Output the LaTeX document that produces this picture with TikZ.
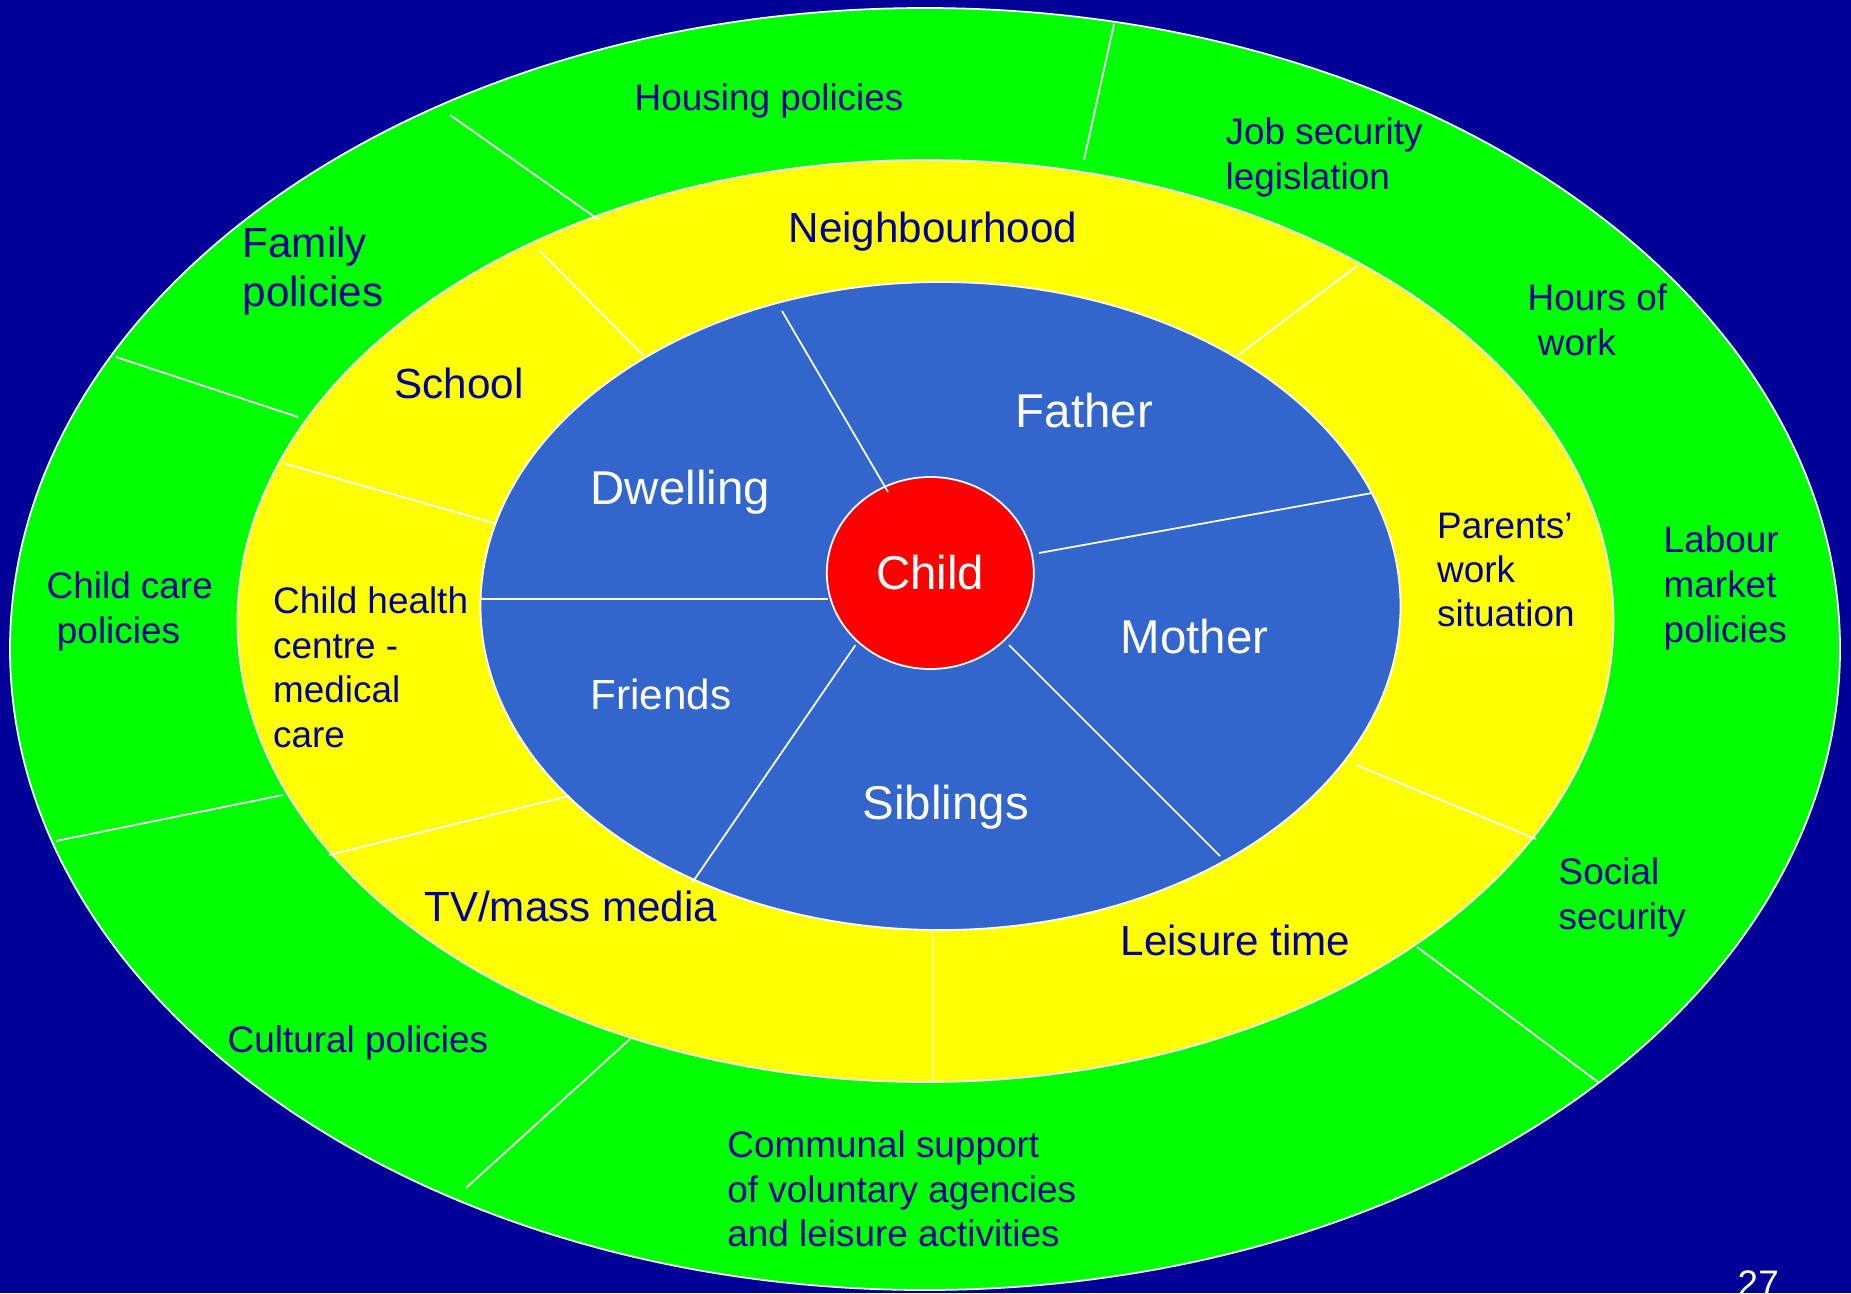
\documentclass[tikz,border=0pt]{standalone}
\usepackage{fontspec}
\setmainfont{Liberation Sans}
\usepackage{tikz}
\usetikzlibrary{shapes.geometric}
\definecolor{navy}{RGB}{0,0,153}
\definecolor{ringgreen}{RGB}{0,255,0}
\definecolor{ringyellow}{RGB}{255,255,0}
\definecolor{ringblue}{RGB}{51,102,204}
\definecolor{childred}{RGB}{255,0,0}
\newcommand{\smallsz}{\fontsize{10.5pt}{12.7pt}\selectfont}
\newcommand{\midsz}{\fontsize{12pt}{13.9pt}\selectfont}
\newcommand{\bigsz}{\fontsize{13.5pt}{16pt}\selectfont}
\tikzset{
  ring/.style={draw=white, line width=0.5pt},
  divider/.style={draw=white, line width=0.5pt},
  lbl/.style={anchor=base west, inner sep=0pt, align=left, text=navy},
  famlbl/.style={anchor=base west, inner sep=0pt, text=white, font=\bigsz},
}

\begin{document}
\begin{tikzpicture}
    \fill[navy] (0,0) rectangle (18.51,-12.93);
    \useasboundingbox (0,0) rectangle (18.51,-12.93);

    \filldraw[ring, fill=ringgreen] (9.25,-6.49) ellipse [x radius=9.15, y radius=6.41];
    \filldraw[ring, fill=ringyellow] (9.255,-6.21) ellipse [x radius=6.88, y radius=4.61];
    \filldraw[ring, fill=ringblue] (9.405,-6.06) ellipse [x radius=4.60, y radius=3.24];
    \node[ellipse, ring, fill=childred, minimum width=2.07cm, minimum height=1.92cm,
          inner sep=0pt, text=white, font=\bigsz] (child) at (9.303,-5.73) {Child};

    \foreach \xa/\ya/\xb/\yb in {4.50/-1.15/5.99/-2.20, 1.16/-3.57/2.98/-4.17,
        0.56/-8.41/2.83/-7.95, 4.66/-11.88/6.30/-10.39, 15.98/-10.82/14.17/-9.47,
        11.14/-0.24/10.84/-1.60}
        \draw[divider] (\xa,\ya) -- (\xb,\yb);
    \foreach \xa/\ya/\xb/\yb in {5.40/-2.51/6.44/-3.56, 2.83/-4.63/4.94/-5.23,
        3.29/-8.55/5.69/-7.96, 9.326/-9.32/9.326/-10.81, 13.56/-7.65/15.36/-8.39,
        12.37/-3.56/13.57/-2.66}
        \draw[divider] (\xa,\ya) -- (\xb,\yb);
    \foreach \xa/\ya/\xb/\yb in {7.82/-3.11/8.88/-4.92, 10.39/-5.53/13.72/-4.93,
        10.09/-6.45/12.20/-8.56, 8.555/-6.45/6.92/-8.83, 4.81/-5.99/8.28/-5.99}
        \draw[divider] (\xa,\ya) -- (\xb,\yb);

    \node[lbl, font=\smallsz] (housing) at (6.34,-1.10) {Housing policies};
    \node[lbl, font=\smallsz] (jobsec) at (12.25,-1.89) {Job security\\legislation};
    \node[lbl, font=\smallsz] (hours) at (15.27,-3.55) {Hours of\\\hspace*{0.278em}work};
    \node[lbl, font=\smallsz] (labour) at (16.63,-6.42) {Labour\\market\\policies};
    \node[lbl, font=\smallsz] (social) at (15.58,-9.29) {Social\\security};
    \node[lbl, font=\smallsz] (communal) at (7.267,-12.467) {Communal support\\of voluntary agencies\\and leisure activities};
    \node[lbl, font=\smallsz] (cultural) at (2.27,-10.52) {Cultural policies};
    \node[lbl, font=\smallsz] (childcare) at (0.46,-6.43) {Child care\\\hspace*{0.278em}policies};
    \node[lbl, font=\midsz] (family) at (2.42,-3.06) {Family\\policies};

    \node[lbl, font=\midsz] (neighbour) at (7.88,-2.42) {Neighbourhood};
    \node[lbl, font=\midsz] (school) at (3.94,-3.98) {School};
    \node[lbl, font=\smallsz] (health) at (2.725,-7.475) {Child health\\centre -\\medical\\care};
    \node[lbl, font=\midsz] (tvmedia) at (4.236,-9.21) {TV/mass media};
    \node[lbl, font=\midsz] (leisure) at (11.20,-9.55) {Leisure time};
    \node[lbl, font=\fontsize{10.5pt}{12.4pt}\selectfont] (parents) at (14.365,-6.26) {Parents’\\work\\situation};

    \node[famlbl] (dwelling) at (5.90,-5.04) {Dwelling};
    \node[famlbl] (father) at (10.15,-4.27) {Father};
    \node[famlbl] (mother) at (11.20,-6.53) {Mother};
    \node[famlbl] (siblings) at (8.62,-8.19) {Siblings};
    \node[famlbl, font=\midsz] (friends) at (5.90,-7.09) {Friends};

    \node[anchor=base west, inner sep=0pt, text=white, font=\smallsz] (page) at (17.37,-12.96) {27};
\end{tikzpicture}
\end{document}
